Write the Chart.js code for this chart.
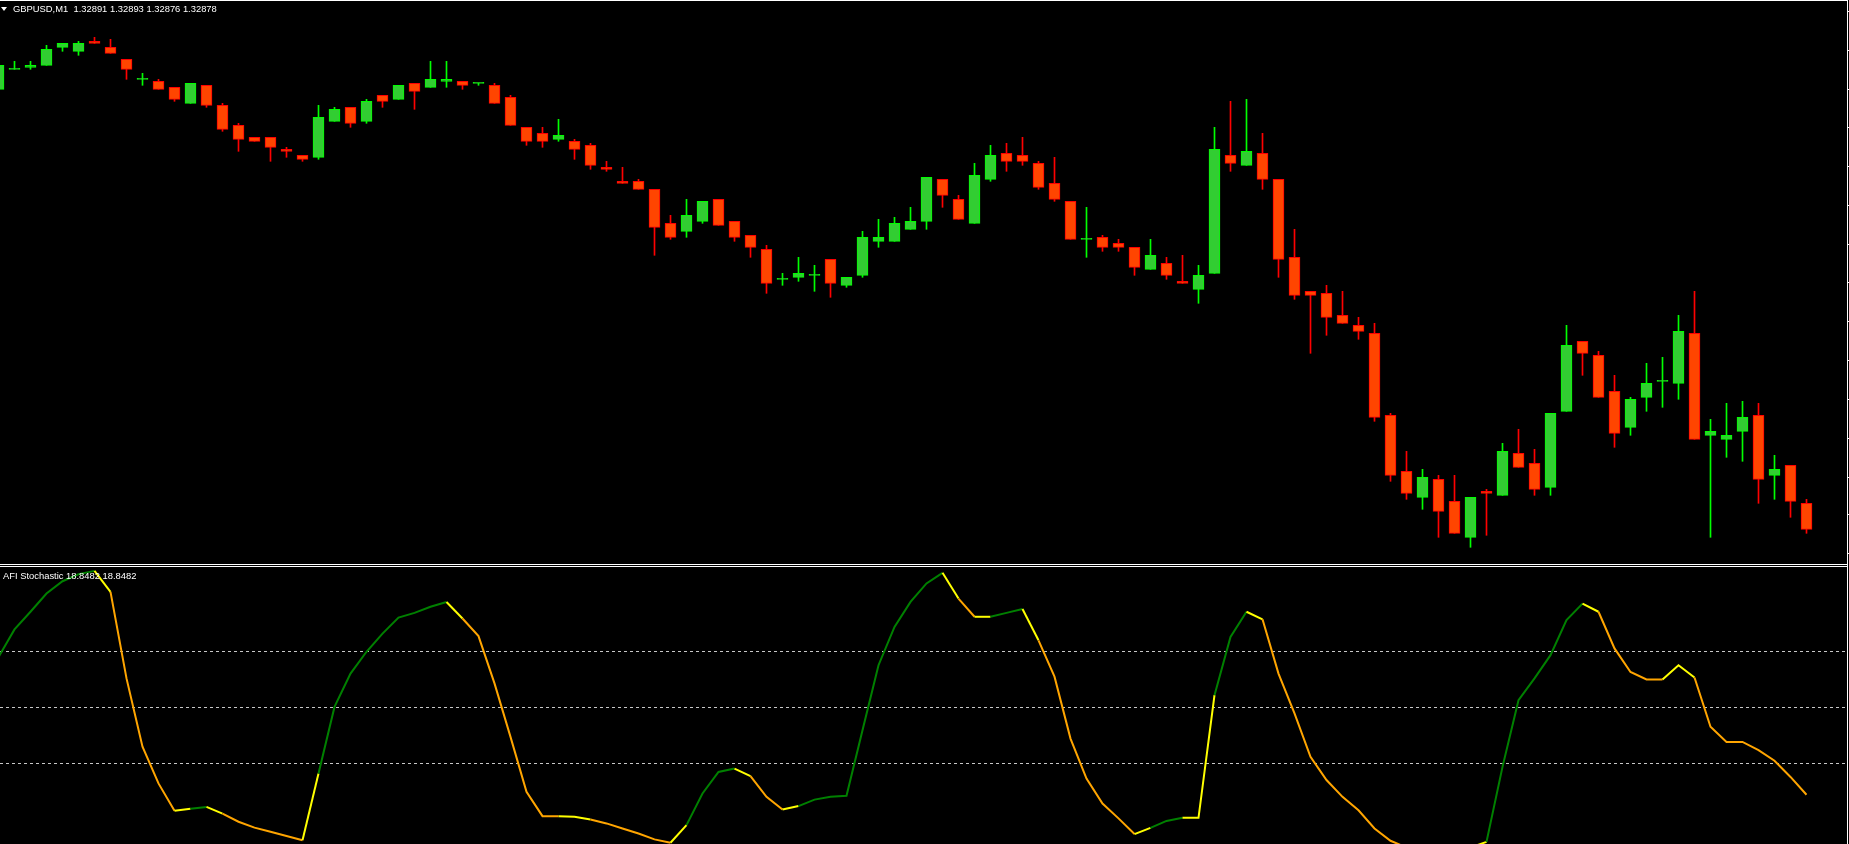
<!DOCTYPE html>
<html>
<head>
<meta charset="utf-8">
<script src="https://cdn.jsdelivr.net/npm/chart.js@4.4.1/dist/chart.umd.min.js"></script>
<style>
  html, body { margin: 0; padding: 0; background: #000; width: 1849px; height: 844px; overflow: hidden; }
  #mainCanvas { position: absolute; left: 0; top: 1px; }
  #subCanvas { position: absolute; left: 0; top: 567px; }
  .hline { position: absolute; left: 0; height: 1px; width: 1848px; background: #fff; }
  .vline { position: absolute; left: 1847px; top: 0; width: 1px; height: 844px; background: #fff; }
  .tri { position: absolute; left: 1px; top: 7px; width: 0; height: 0;
         border-left: 3px solid transparent; border-right: 3px solid transparent; border-top: 4px solid #fff; }
  .txt { position: absolute; color: #fff; font-family: 'Liberation Sans', Arial, sans-serif;
         font-size: 9.4px; line-height: 12px; white-space: pre; }
</style>
</head>
<body>
<canvas id="mainCanvas" width="1849" height="563"></canvas>
<canvas id="subCanvas" width="1847" height="277"></canvas>
<div class="hline" style="top:0"></div>
<div class="hline" style="top:564px"></div>
<div class="hline" style="top:566px"></div>
<div class="vline"></div>
<div class="tri"></div>
<div id="hdr" class="txt" style="left:13px; top:2.5px"></div>
<div id="lbl" class="txt" style="left:3px; top:570px"></div>

<script>
// ---------------- data ----------------
const symbol = 'GBPUSD';
const timeframe = 'M1';
const indicatorName = 'AFI Stochastic';

const opens = [
  1.33098,1.33108,1.33109,1.33110,1.33119,1.33117,1.33122,1.33119,1.33113,1.33103,
  1.33102,1.33099,1.33091,1.33100,1.33090,1.33080,1.33074,1.33074,1.33068,1.33065,
  1.33064,1.33082,1.33089,1.33082,1.33095,1.33093,1.33101,1.33099,1.33102,1.33102,
  1.33101,1.33100,1.33094,1.33079,1.33076,1.33073,1.33072,1.33070,1.33059,1.33052,
  1.33052,1.33048,1.33031,1.33027,1.33032,1.33043,1.33032,1.33025,1.33018,1.33003,
  1.33004,1.33005,1.33013,1.33000,1.33005,1.33022,1.33022,1.33028,1.33032,1.33053,
  1.33043,1.33031,1.33053,1.33066,1.33065,1.33061,1.33051,1.33042,1.33023,1.33024,
  1.33021,1.33019,1.33008,1.33011,1.33002,1.32998,1.33006,1.33065,1.33060,1.33066,
  1.33053,1.33014,1.32997,1.32996,1.32985,1.32980,1.32976,1.32935,1.32907,1.32894,
  1.32903,1.32892,1.32874,1.32897,1.32895,1.32916,1.32911,1.32899,1.32937,1.32972,
  1.32965,1.32947,1.32929,1.32944,1.32952,1.32951,1.32976,1.32925,1.32923,1.32927,
  1.32935,1.32905,1.32910,1.32891
];
const highs = [
  1.33110,1.33112,1.33112,1.33120,1.33121,1.33122,1.33124,1.33123,1.33113,1.33106,
  1.33103,1.33099,1.33101,1.33100,1.33091,1.33081,1.33074,1.33074,1.33069,1.33065,
  1.33090,1.33089,1.33089,1.33093,1.33095,1.33100,1.33101,1.33112,1.33112,1.33102,
  1.33101,1.33101,1.33095,1.33079,1.33079,1.33083,1.33073,1.33071,1.33062,1.33059,
  1.33053,1.33048,1.33035,1.33043,1.33042,1.33043,1.33032,1.33025,1.33020,1.33006,
  1.33014,1.33010,1.33013,1.33004,1.33027,1.33033,1.33034,1.33039,1.33054,1.33053,
  1.33045,1.33061,1.33070,1.33071,1.33074,1.33062,1.33064,1.33042,1.33039,1.33025,
  1.33023,1.33019,1.33023,1.33014,1.33015,1.33010,1.33079,1.33092,1.33093,1.33076,
  1.33053,1.33028,1.32997,1.33000,1.32997,1.32984,1.32981,1.32936,1.32917,1.32908,
  1.32905,1.32905,1.32894,1.32898,1.32921,1.32928,1.32918,1.32936,1.32980,1.32972,
  1.32967,1.32955,1.32944,1.32961,1.32964,1.32985,1.32997,1.32933,1.32941,1.32942,
  1.32941,1.32915,1.32910,1.32893
];
const lows = [
  1.33098,1.33108,1.33108,1.33110,1.33117,1.33115,1.33121,1.33116,1.33103,1.33100,
  1.33098,1.33092,1.33091,1.33089,1.33077,1.33067,1.33072,1.33062,1.33064,1.33062,
  1.33063,1.33082,1.33079,1.33081,1.33089,1.33093,1.33088,1.33099,1.33099,1.33098,
  1.33100,1.33091,1.33080,1.33070,1.33069,1.33072,1.33063,1.33058,1.33057,1.33051,
  1.33048,1.33015,1.33023,1.33024,1.33031,1.33030,1.33022,1.33014,1.32996,1.33000,
  1.33002,1.32997,1.32994,1.32999,1.33004,1.33019,1.33022,1.33028,1.33028,1.33039,
  1.33033,1.33031,1.33052,1.33057,1.33060,1.33048,1.33042,1.33023,1.33014,1.33017,
  1.33017,1.33005,1.33008,1.33003,1.33001,1.32991,1.33006,1.33057,1.33060,1.33048,
  1.33004,1.32993,1.32966,1.32975,1.32981,1.32973,1.32932,1.32902,1.32893,1.32888,
  1.32874,1.32876,1.32869,1.32875,1.32895,1.32909,1.32895,1.32895,1.32937,1.32955,
  1.32944,1.32919,1.32925,1.32937,1.32939,1.32943,1.32923,1.32874,1.32914,1.32912,
  1.32891,1.32893,1.32884,1.32876
];
const closes = [
  1.33110,1.33108,1.33110,1.33118,1.33121,1.33121,1.33121,1.33116,1.33108,1.33103,
  1.33098,1.33093,1.33101,1.33090,1.33078,1.33073,1.33072,1.33069,1.33067,1.33063,
  1.33084,1.33088,1.33081,1.33092,1.33092,1.33100,1.33097,1.33103,1.33103,1.33100,
  1.33101,1.33091,1.33080,1.33072,1.33072,1.33075,1.33068,1.33060,1.33058,1.33051,
  1.33048,1.33029,1.33024,1.33035,1.33042,1.33030,1.33024,1.33019,1.33001,1.33003,
  1.33006,1.33005,1.33001,1.33004,1.33024,1.33024,1.33031,1.33032,1.33054,1.33045,
  1.33033,1.33055,1.33065,1.33062,1.33062,1.33049,1.33043,1.33023,1.33023,1.33019,
  1.33019,1.33009,1.33015,1.33005,1.33001,1.33005,1.33068,1.33061,1.33067,1.33053,
  1.33013,1.32995,1.32995,1.32984,1.32981,1.32977,1.32934,1.32905,1.32896,1.32904,
  1.32887,1.32876,1.32894,1.32896,1.32917,1.32909,1.32898,1.32936,1.32970,1.32966,
  1.32944,1.32926,1.32943,1.32951,1.32952,1.32977,1.32923,1.32927,1.32925,1.32934,
  1.32903,1.32908,1.32892,1.32878
];

// AFI Stochastic main buffer, one value per bar
const stochValues = [
  68.0,77.9,84.2,90.7,95.1,97.6,98.8,91.3,60.4,36.0,
  22.9,13.1,13.8,14.5,12.1,9.2,7.1,5.6,4.1,2.6,
  26.4,50.2,62.1,69.9,76.4,82.1,83.8,86.0,87.7,81.8,
  75.5,58.6,39.5,19.9,11.2,11.2,11.0,10.0,8.6,6.8,
  5.0,2.9,1.7,8.0,19.3,27.0,28.2,25.5,18.1,13.6,
  14.8,17.1,18.1,18.5,41.9,65.1,78.8,87.7,94.3,98.1,
  88.9,82.4,82.4,83.8,85.2,74.0,61.0,38.9,24.6,15.7,
  10.4,4.8,7.0,9.5,10.6,10.6,54.4,75.2,84.2,81.5,
  62.1,47.9,32.4,24.1,18.1,13.3,6.8,2.4,0.0,0.0,
  0.0,0.0,0.0,2.0,28.8,52.6,60.4,68.7,81.2,87.1,
  84.2,71.1,62.7,60.0,60.0,65.1,60.7,43.1,37.7,37.7,
  34.8,31.0,25.2,18.8482
];
// colour-state buffer of each line segment starting at that bar: U = up, D = down, N = turning
const stochTrend = [
  'U','U','U','U','U','U','N','D','D','D',
  'D','N','U','N','D','D','D','D','D','N',
  'U','U','U','U','U','U','U','U','N','D',
  'D','D','D','D','D','N','N','D','D','D',
  'D','D','N','U','U','U','N','D','D','N',
  'U','U','U','U','U','U','U','U','U','N',
  'D','N','U','U','N','D','D','D','D','D',
  'D','N','U','U','N','N','U','U','N','D',
  'D','D','D','D','D','D','D','D','D','D',
  'D','D','N','U','U','U','U','U','U','N',
  'D','D','D','D','N','N','D','D','D','D',
  'D','D','D','D'
];
const stochLevels = [70, 50, 30];

// right price-axis tick marks (labels are cut off in the screenshot)
const priceTicks = [1.331371,1.331173,1.330979,1.330789,1.330594,1.330400,1.330206,
                    1.330012,1.329817,1.329623,1.329429,1.329235,1.329041,1.328852,1.328658];

// ---------------- view ----------------
const X_MIN = 0.09375, X_MAX = 115.53125;           // 16 px per bar
const PRICE_MIN = 1.3286065, PRICE_MAX = 1.3314215;
const OSC_MIN = 1.25, OSC_MAX = 100.18;

const BULL_FILL = '#32CD32', BULL_LINE = '#00FF00';
const BEAR_FILL = '#FF4500', BEAR_LINE = '#FF0000';
const TREND_COLORS = { U: '#008000', D: '#FFA500', N: '#FFFF00' };
const LEVEL_COLOR = '#C8C8C8';

const last = opens.length - 1;
document.getElementById('hdr').textContent =
  `${symbol},${timeframe}  ${opens[last].toFixed(5)} ${highs[last].toFixed(5)} ${lows[last].toFixed(5)} ${closes[last].toFixed(5)}`;
document.getElementById('lbl').textContent =
  `${indicatorName} ${stochValues[last].toFixed(4)} ${stochValues[last].toFixed(4)}`;

const idx = opens.map((_, i) => i);
const isBull = i => i !== undefined && closes[i] >= opens[i];

const common = {
  responsive: false, animation: false, devicePixelRatio: 1, events: [],
  layout: { padding: 0 },
  plugins: { legend: { display: false }, tooltip: { enabled: false }, title: { display: false } }
};

new Chart(document.getElementById('mainCanvas'), {
  type: 'bar',
  data: {
    datasets: [
      {
        data: idx.map(i => ({ x: i, y: [opens[i], closes[i]] })),
        barThickness: 11, minBarLength: 1, borderWidth: 1, borderSkipped: false, grouped: false, order: 0,
        backgroundColor: c => isBull(c.dataIndex) ? BULL_FILL : BEAR_FILL,
        borderColor: c => isBull(c.dataIndex) ? BULL_LINE : BEAR_LINE
      },
      {
        data: idx.map(i => ({ x: i, y: [lows[i], highs[i]] })),
        barThickness: 1, borderWidth: 0, grouped: false, order: 1,
        backgroundColor: c => isBull(c.dataIndex) ? BULL_LINE : BEAR_LINE
      }
    ]
  },
  options: Object.assign({}, common, {
    scales: {
      x: { type: 'linear', display: false, min: X_MIN, max: X_MAX, offset: false, bounds: 'data' },
      y: {
        type: 'linear', position: 'right', min: PRICE_MIN, max: PRICE_MAX, bounds: 'data',
        afterFit: s => { s.width = 2; },
        afterBuildTicks: s => { s.ticks = priceTicks.map(v => ({ value: v })); },
        ticks: { display: false },
        grid: { drawOnChartArea: false, drawTicks: true, tickLength: 2, color: '#ffffff', lineWidth: 1 },
        border: { display: true, color: '#ffffff', width: 1 }
      }
    }
  })
});

new Chart(document.getElementById('subCanvas'), {
  type: 'line',
  data: {
    datasets: [
      {
        data: idx.map(i => ({ x: i, y: stochValues[i] })),
        borderWidth: 2, pointRadius: 0, tension: 0, order: 0,
        borderColor: TREND_COLORS.D,
        segment: { borderColor: c => TREND_COLORS[stochTrend[c.p0DataIndex]] }
      },
      ...stochLevels.map(lv => ({
        data: [{ x: X_MIN, y: lv }, { x: X_MAX, y: lv }],
        borderColor: LEVEL_COLOR, borderWidth: 1, borderDash: [3, 3], pointRadius: 0, order: 1
      }))
    ]
  },
  options: Object.assign({}, common, {
    scales: {
      x: { type: 'linear', display: false, min: X_MIN, max: X_MAX, bounds: 'data' },
      y: { type: 'linear', display: false, min: OSC_MIN, max: OSC_MAX, bounds: 'data' }
    }
  })
});
</script>
</body>
</html>
